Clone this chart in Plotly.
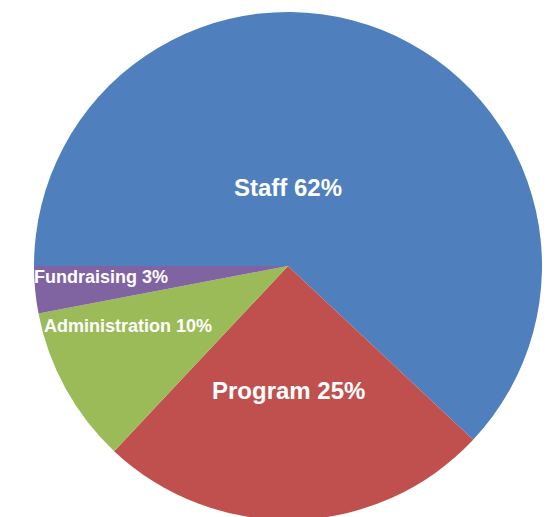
import plotly.graph_objects as go

labels = ["Staff", "Program", "Administration", "Fundraising"]
values = [62, 25, 10, 3]
colors = ["#4F80BD", "#C0504D", "#9BBB59", "#8064A2"]

# page body has an 8px margin; the pie is slightly clipped at the bottom
OFF = 8
W, H = 554 - OFF, 517
cx, cy, r = 288 - OFF, 266 - OFF, 254

fig = go.Figure(go.Pie(
    labels=labels,
    values=values,
    sort=False,
    direction="clockwise",
    rotation=270,
    marker=dict(colors=colors, line=dict(width=0)),
    textinfo="none",
    hoverinfo="label+percent",
    showlegend=False,
    domain=dict(x=[(cx - 262) / W, (cx + 262) / W],
                y=[(H - cy - r) / H, (H - cy + r) / H]),
))

# label positions (screen pixels) and font sizes
label_pos = {
    "Staff": (288, 187, 24),
    "Program": (288, 390, 24),
    "Administration": (128, 326, 18),
    "Fundraising": (101, 277, 18),
}
for lab, val in zip(labels, values):
    px, py, fs = label_pos[lab]
    fig.add_annotation(
        x=(px - OFF) / W, y=1 - (py - OFF) / H, xref="paper", yref="paper",
        text=f"<b>{lab} {val}%</b>", showarrow=False,
        font=dict(family="Liberation Sans, Arial, sans-serif", size=fs, color="white"),
        xanchor="center", yanchor="middle",
    )

fig.update_layout(
    width=W, height=H,
    margin=dict(l=0, r=0, t=0, b=0),
    paper_bgcolor="white",
    plot_bgcolor="white",
)

fig.write_html("out.html")
